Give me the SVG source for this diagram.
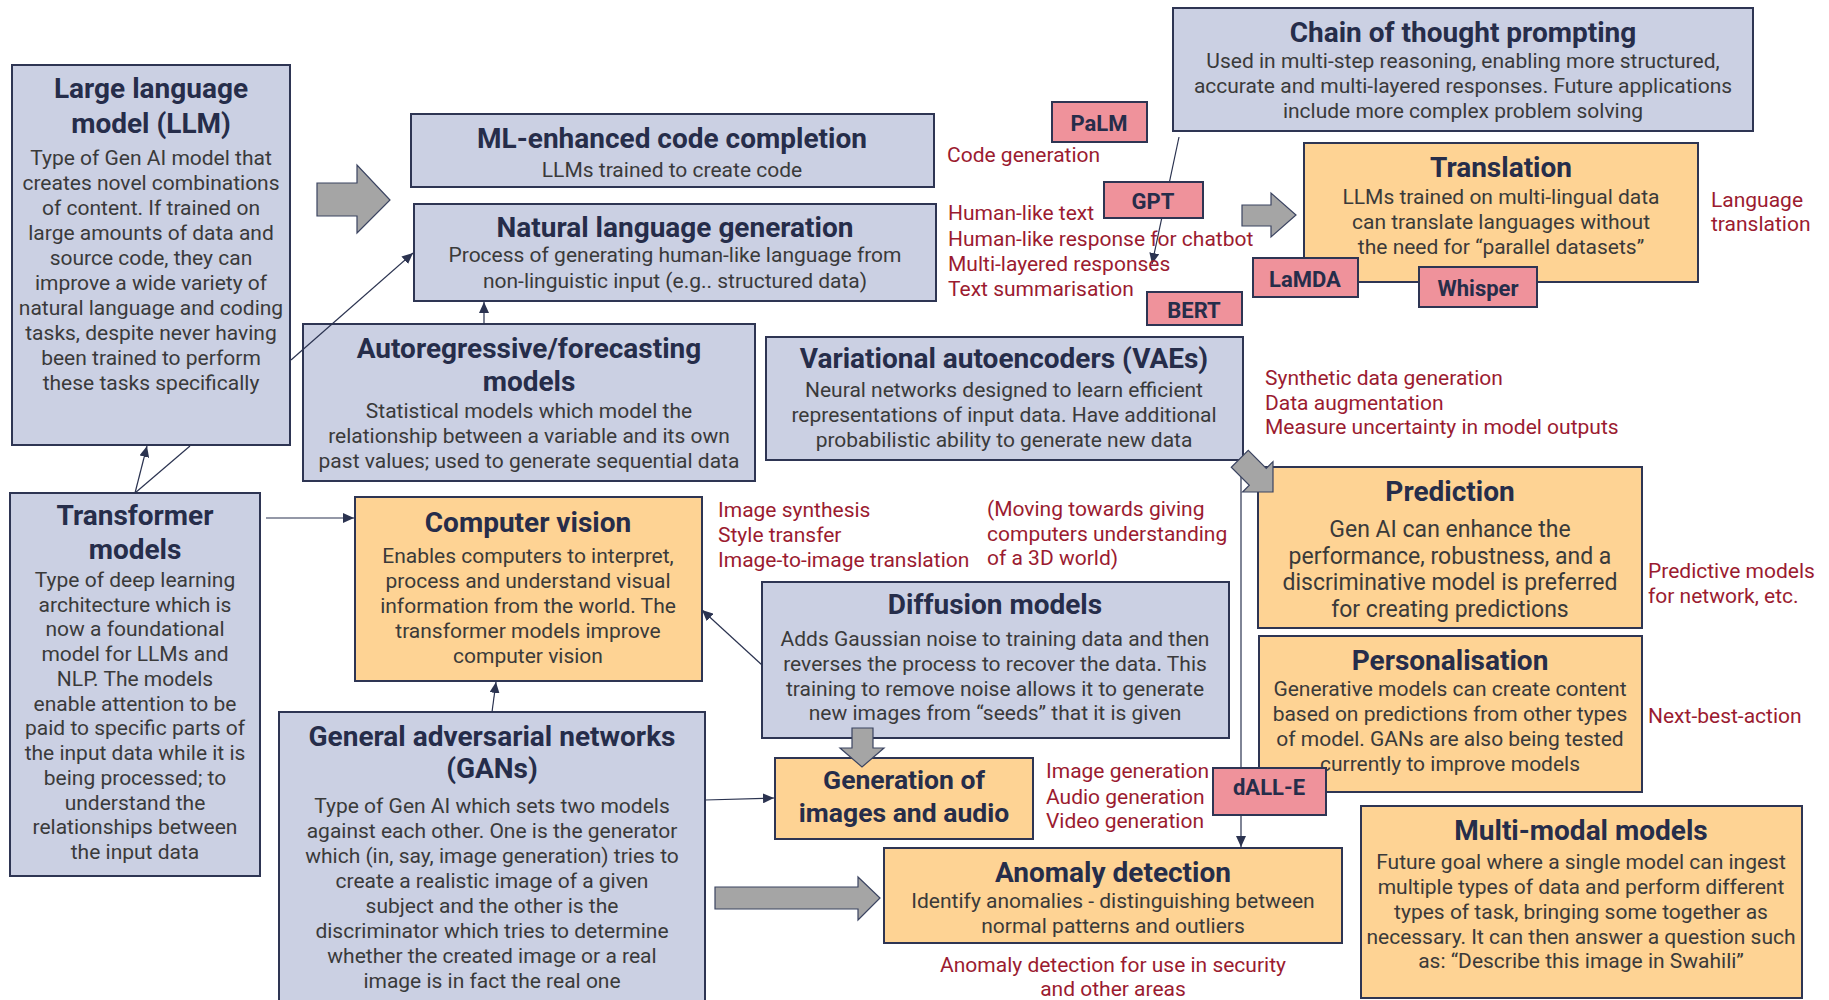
<svg xmlns="http://www.w3.org/2000/svg" width="1829" height="1000" viewBox="0 0 1829 1000">
<style>
.bb{fill:#cbd0e3;stroke:#2e3553;stroke-width:2}
.bo{fill:#fed394;stroke:#2e3553;stroke-width:2}
.bp{fill:#ef929b;stroke:#2e3553;stroke-width:2}
text{font-family:Roboto,"Liberation Sans",Arial,sans-serif}
.t{font-weight:700;font-size:28px;fill:#262d4a;text-anchor:middle}
.t2{font-weight:700;font-size:26.5px;fill:#262d4a;text-anchor:middle}
.b{font-size:21px;fill:#3a3a3a;text-anchor:middle}
.b2{font-size:23px;fill:#3a3a3a;text-anchor:middle}
.r{font-size:21px;fill:#9b1b30}
.rc{font-size:21px;fill:#9b1b30;text-anchor:middle}
.p{font-weight:700;font-size:22px;fill:#262d4a;text-anchor:middle}
.ln{stroke:#2b3350;stroke-width:1.2;fill:none}
.ar{marker-end:url(#ah)}
.ga{fill:#a5a5a5;stroke:#3b4461;stroke-width:1.2}
</style>
<defs>
<marker id="ah" markerUnits="userSpaceOnUse" markerWidth="11" markerHeight="10" refX="11" refY="5" orient="auto">
<path d="M0,0 L11,5 L0,10 z" fill="#2b3350"/>
</marker>
</defs>
<rect width="1829" height="1000" fill="#ffffff"/>

<g id="llm">
<rect class="bb" x="12" y="65" width="278" height="380"/>
<text class="t" x="151" y="98">Large language</text>
<text class="t" x="151" y="133">model (LLM)</text>
<text class="b" x="151" y="165">Type of Gen AI model that</text>
<text class="b" x="151" y="190">creates novel combinations</text>
<text class="b" x="151" y="215">of content. If trained on</text>
<text class="b" x="151" y="240">large amounts of data and</text>
<text class="b" x="151" y="265">source code, they can</text>
<text class="b" x="151" y="290">improve a wide variety of</text>
<text class="b" x="151" y="315">natural language and coding</text>
<text class="b" x="151" y="340">tasks, despite never having</text>
<text class="b" x="151" y="365">been trained to perform</text>
<text class="b" x="151" y="390">these tasks specifically</text>
</g>

<g id="ml-code">
<rect class="bb" x="411" y="114" width="523" height="73"/>
<text class="t" x="672" y="148">ML-enhanced code completion</text>
<text class="b" x="672" y="177">LLMs trained to create code</text>
</g>

<g id="nlg">
<rect class="bb" x="414" y="204" width="522" height="97"/>
<text class="t" x="675" y="237">Natural language generation</text>
<text class="b" x="675" y="262">Process of generating human-like language from</text>
<text class="b" x="675" y="288">non-linguistic input (e.g.. structured data)</text>
</g>

<g id="autoregressive">
<rect class="bb" x="303" y="324" width="452" height="157"/>
<text class="t" x="529" y="358">Autoregressive/forecasting</text>
<text class="t" x="529" y="391">models</text>
<text class="b" x="529" y="418">Statistical models which model the</text>
<text class="b" x="529" y="443">relationship between a variable and its own</text>
<text class="b" x="529" y="468">past values; used to generate sequential data</text>
</g>

<g id="chain">
<rect class="bb" x="1173" y="8" width="580" height="123"/>
<text class="t" x="1463" y="42">Chain of thought prompting</text>
<text class="b" x="1463" y="68">Used in multi-step reasoning, enabling more structured,</text>
<text class="b" x="1463" y="93">accurate and multi-layered responses. Future applications</text>
<text class="b" x="1463" y="118">include more complex problem solving</text>
</g>

<g id="translation">
<rect class="bo" x="1304" y="143" width="394" height="139"/>
<text class="t" x="1501" y="177">Translation</text>
<text class="b" x="1501" y="204">LLMs trained on multi-lingual data</text>
<text class="b" x="1501" y="229">can translate languages without</text>
<text class="b" x="1501" y="254">the need for “parallel datasets”</text>
</g>

<g id="vae">
<rect class="bb" x="766" y="337" width="477" height="123"/>
<text class="t" x="1004" y="368">Variational autoencoders (VAEs)</text>
<text class="b" x="1004" y="397">Neural networks designed to learn efficient</text>
<text class="b" x="1004" y="422">representations of input data. Have additional</text>
<text class="b" x="1004" y="447">probabilistic ability to generate new data</text>
</g>

<g id="transformer">
<rect class="bb" x="10" y="493" width="250" height="383"/>
<text class="t" x="135" y="525">Transformer</text>
<text class="t" x="135" y="559">models</text>
<text class="b" x="135" y="587">Type of deep learning</text>
<text class="b" x="135" y="612">architecture which is</text>
<text class="b" x="135" y="636">now a foundational</text>
<text class="b" x="135" y="661">model for LLMs and</text>
<text class="b" x="135" y="686">NLP. The models</text>
<text class="b" x="135" y="711">enable attention to be</text>
<text class="b" x="135" y="735">paid to specific parts of</text>
<text class="b" x="135" y="760">the input data while it is</text>
<text class="b" x="135" y="785">being processed; to</text>
<text class="b" x="135" y="810">understand the</text>
<text class="b" x="135" y="834">relationships between</text>
<text class="b" x="135" y="859">the input data</text>
</g>

<g id="computer-vision">
<rect class="bo" x="355" y="497" width="347" height="184"/>
<text class="t" x="528" y="532">Computer vision</text>
<text class="b" x="528" y="563">Enables computers to interpret,</text>
<text class="b" x="528" y="588">process and understand visual</text>
<text class="b" x="528" y="613">information from the world. The</text>
<text class="b" x="528" y="638">transformer models improve</text>
<text class="b" x="528" y="663">computer vision</text>
</g>

<g id="diffusion">
<rect class="bb" x="762" y="582" width="467" height="156"/>
<text class="t" x="995" y="614">Diffusion models</text>
<text class="b" x="995" y="646">Adds Gaussian noise to training data and then</text>
<text class="b" x="995" y="671">reverses the process to recover the data. This</text>
<text class="b" x="995" y="696">training to remove noise allows it to generate</text>
<text class="b" x="995" y="720">new images from “seeds” that it is given</text>
</g>

<g id="gans">
<rect class="bb" x="279" y="712" width="426" height="300"/>
<text class="t" x="492" y="746">General adversarial networks</text>
<text class="t" x="492" y="778">(GANs)</text>
<text class="b" x="492" y="813">Type of Gen AI which sets two models</text>
<text class="b" x="492" y="838">against each other. One is the generator</text>
<text class="b" x="492" y="863">which (in, say, image generation) tries to</text>
<text class="b" x="492" y="888">create a realistic image of a given</text>
<text class="b" x="492" y="913">subject and the other is the</text>
<text class="b" x="492" y="938">discriminator which tries to determine</text>
<text class="b" x="492" y="963">whether the created image or a real</text>
<text class="b" x="492" y="988">image is in fact the real one</text>
</g>

<g id="generation">
<rect class="bo" x="775" y="758" width="258" height="81"/>
<text class="t2" x="904" y="789">Generation of</text>
<text class="t2" x="904" y="822">images and audio</text>
</g>

<g id="anomaly">
<rect class="bo" x="884" y="848" width="458" height="95"/>
<text class="t" x="1113" y="882">Anomaly detection</text>
<text class="b" x="1113" y="908">Identify anomalies - distinguishing between</text>
<text class="b" x="1113" y="933">normal patterns and outliers</text>
</g>

<g id="prediction">
<rect class="bo" x="1258" y="467" width="384" height="161"/>
<text class="t" x="1450" y="501">Prediction</text>
<text class="b2" x="1450" y="537">Gen AI can enhance the</text>
<text class="b2" x="1450" y="564">performance, robustness, and a</text>
<text class="b2" x="1450" y="590">discriminative model is preferred</text>
<text class="b2" x="1450" y="617">for creating predictions</text>
</g>

<g id="personalisation">
<rect class="bo" x="1259" y="636" width="383" height="156"/>
<text class="t" x="1450" y="670">Personalisation</text>
<text class="b" x="1450" y="696">Generative models can create content</text>
<text class="b" x="1450" y="721">based on predictions from other types</text>
<text class="b" x="1450" y="746">of model. GANs are also being tested</text>
<text class="b" x="1450" y="771">currently to improve models</text>
</g>

<g id="multimodal">
<rect class="bo" x="1361" y="806" width="441" height="192"/>
<text class="t" x="1581" y="840">Multi-modal models</text>
<text class="b" x="1581" y="869">Future goal where a single model can ingest</text>
<text class="b" x="1581" y="894">multiple types of data and perform different</text>
<text class="b" x="1581" y="919">types of task, bringing some together as</text>
<text class="b" x="1581" y="944">necessary. It can then answer a question such</text>
<text class="b" x="1581" y="968">as: “Describe this image in Swahili”</text>
</g>

<g id="connectors">
<line class="ln ar" x1="291" y1="360" x2="413" y2="253"/>
<line class="ln ar" x1="135" y1="493" x2="147" y2="446"/>
<line class="ln" x1="135" y1="493" x2="190" y2="446"/>
<line class="ln ar" x1="266" y1="518" x2="354" y2="518"/>
<line class="ln ar" x1="484" y1="324" x2="484" y2="302"/>
<line class="ln ar" x1="492" y1="712" x2="496" y2="682"/>
<line class="ln ar" x1="705" y1="800" x2="774" y2="798"/>
<line class="ln ar" x1="762" y1="665" x2="702" y2="610"/>
<line class="ln ar" x1="1179" y1="137" x2="1152" y2="264"/>
<line class="ln ar" x1="1241" y1="460" x2="1241" y2="847"/>
</g>

<g id="block-arrows">
<path class="ga" d="M317,183 H357 V165 L390,200 L357,233 V216 H317 Z"/>
<path class="ga" d="M1242,205 H1271 V193 L1296,215 L1271,237 V226 H1242 Z"/>
<path class="ga" transform="translate(1273,492) rotate(45)" d="M0,0 L-21.5,-21.5 V-12 H-47 V12 H-21.5 V21.5 Z"/>
<path class="ga" d="M852,728 H873 V748 H884 L862,767 L840,748 H852 Z"/>
<path class="ga" d="M715,887 H858 V877 L880,898 L858,920 V909 H715 Z"/>
</g>

<g id="palm"><rect class="bp" x="1052" y="102" width="95" height="40"/><text class="p" x="1099" y="131">PaLM</text></g>
<g id="gpt"><rect class="bp" x="1104" y="182" width="99" height="36"/><text class="p" x="1153" y="209">GPT</text></g>
<g id="bert"><rect class="bp" x="1147" y="292" width="95" height="33"/><text class="p" x="1194" y="318">BERT</text></g>
<g id="lamda"><rect class="bp" x="1253" y="258" width="105" height="39"/><text class="p" x="1305" y="287">LaMDA</text></g>
<g id="whisper"><rect class="bp" x="1419" y="267" width="118" height="40"/><text class="p" x="1478" y="296">Whisper</text></g>
<g id="dalle"><rect class="bp" x="1213" y="768" width="113" height="47"/><text class="p" x="1269" y="795">dALL-E</text></g>

<g id="labels">
<text class="r" x="947" y="162">Code generation</text>
<text class="r" x="948" y="220">Human-like text</text>
<text class="r" x="948" y="246">Human-like response for chatbot</text>
<text class="r" x="948" y="271">Multi-layered responses</text>
<text class="r" x="948" y="296">Text summarisation</text>
<text class="r" x="1711" y="207">Language</text>
<text class="r" x="1711" y="231">translation</text>
<text class="r" x="1265" y="385">Synthetic data generation</text>
<text class="r" x="1265" y="410">Data augmentation</text>
<text class="r" x="1265" y="434">Measure uncertainty in model outputs</text>
<text class="r" x="718" y="517">Image synthesis</text>
<text class="r" x="718" y="542">Style transfer</text>
<text class="r" x="718" y="567">Image-to-image translation</text>
<text class="r" x="987" y="516">(Moving towards giving</text>
<text class="r" x="987" y="541">computers understanding</text>
<text class="r" x="987" y="565">of a 3D world)</text>
<text class="r" x="1046" y="778">Image generation</text>
<text class="r" x="1046" y="804">Audio generation</text>
<text class="r" x="1046" y="828">Video generation</text>
<text class="r" x="1648" y="578">Predictive models</text>
<text class="r" x="1648" y="603">for network, etc.</text>
<text class="r" x="1648" y="723">Next-best-action</text>
<text class="rc" x="1113" y="972">Anomaly detection for use in security</text>
<text class="rc" x="1113" y="996">and other areas</text>
</g>
</svg>
